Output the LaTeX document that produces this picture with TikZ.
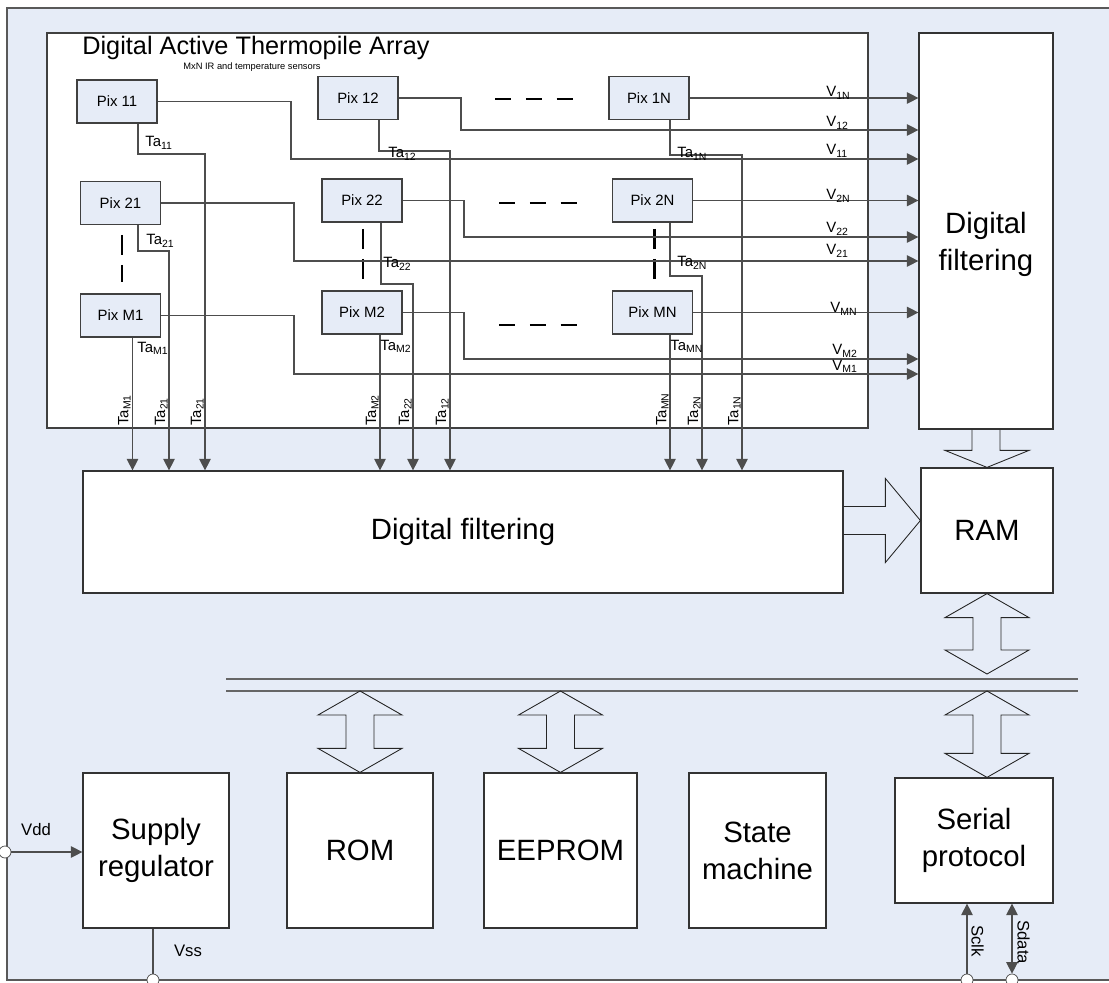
\documentclass[tikz,border=0pt]{standalone}
\usepackage{fontspec}
\setmainfont{Liberation Sans}
\usepackage{tikz}
\usetikzlibrary{arrows.meta, positioning, calc}

\definecolor{panelblue}{HTML}{E6ECF7}
\definecolor{wiregray}{HTML}{4D4D4D}

\tikzstyle{pix} = [rectangle, minimum width=1.6cm, minimum height=0.86cm, inner sep=0pt, text centered, draw=black!75, line width=0.6pt, fill=panelblue, font=\fontsize{8.5}{10}\selectfont]
\tikzstyle{block} = [rectangle, inner sep=0pt, align=center, draw=black!80, line width=0.7pt, fill=white, font=\fontsize{16.7}{21}\selectfont]
\tikzstyle{wire} = [draw=wiregray, line width=0.6pt]
\tikzstyle{arrow} = [wire, -{Triangle[length=6.5pt,width=6.5pt]}]
\tikzstyle{sig} = [inner sep=0pt, font=\fontsize{8.5}{9}\selectfont]
\tikzstyle{pinlabel} = [inner sep=0pt, font=\fontsize{9.5}{11}\selectfont]
\tikzstyle{pin} = [circle, draw=black!70, fill=white, minimum size=0.24cm, inner sep=0pt]
\tikzstyle{blockarr} = [draw=black!85, line width=0.5pt, line join=miter]
\tikzstyle{hdots} = [line width=1.7pt, dash pattern=on 9.35pt off 8.2pt]
\tikzstyle{vdots} = [line width=1.7pt, dash pattern=on 11.3pt off 5.7pt]
\tikzstyle{busline} = [draw=black!60, line width=0.9pt]

% double headed block arrow, #1 upper tip, #2 lower tip
\newcommand{\busarrow}[2]{%
  \draw[blockarr] (#1) -- ++(42,24) -- ++(-28,0) |- ($(#2)+(14,-24)$) -- ++(28,0)
    -- (#2) -- ++(-42,-24) -- ++(28,0) |- ($(#1)+(-14,24)$) -- ++(-28,0) -- cycle;}

\begin{document}
\begin{tikzpicture}[x=0.02cm, y=-0.02cm]
\useasboundingbox (0,0) rectangle (1109,983);
\clip (0,0) rectangle (1109,983);

% chip outline
\fill[panelblue] (7,8) rectangle (1130,980);
\draw[black!65, line width=0.8pt] (1130,8) -- (7,8) -- (7,980) -- (1130,980);

% sensor array
\node[draw=black!75, line width=0.7pt, fill=white, minimum width=16.42cm, minimum height=7.9cm, inner sep=0pt] (array) at (457.5,230.5) {};
\node[anchor=base west, inner sep=0pt, font=\fontsize{14.4}{17}\selectfont] (title) at (82,55) {Digital Active Thermopile Array};
\node[inner sep=0pt, font=\fontsize{5.3}{6}\selectfont] (subtitle) at (252,67) {MxN IR and temperature sensors};

\node[pix] (p11) at (117,101.5) {Pix 11};
\node[pix] (p12) at (358,98) {Pix 12};
\node[pix] (p1N) at (649,98) {Pix 1N};
\node[pix] (p21) at (120.5,203) {Pix 21};
\node[pix] (p22) at (362,200.5) {Pix 22};
\node[pix] (p2N) at (652.5,200.5) {Pix 2N};
\node[pix] (pM1) at (120.5,315.5) {Pix M1};
\node[pix] (pM2) at (362,312.5) {Pix M2};
\node[pix] (pMN) at (652.5,312.5) {Pix MN};

\draw[hdots] (495,99) -- (574,99);
\draw[hdots] (499,203) -- (578,203);
\draw[hdots] (499,325) -- (578,325);
\draw[vdots] (122,235) -- (122,282);
\draw[vdots] (363,229) -- (363,279);
\draw[vdots] (654,229) -- (654,279);

% blocks
\node[block, minimum width=2.68cm, minimum height=7.92cm] (dfR) at (986,231) {\raisebox{-0.43cm}[0pt][0pt]{\begin{tabular}{@{}c@{}}Digital\\filtering\end{tabular}}};
\node[block, minimum width=15.2cm, minimum height=2.44cm] (dfM) at (463,532) {Digital filtering};
\node[block, minimum width=2.64cm, minimum height=2.5cm] (ram) at (987,530.5) {RAM};
\node[block, minimum width=2.92cm, minimum height=3.1cm] (reg) at (156,850.5) {Supply\\regulator};
\node[block, minimum width=2.92cm, minimum height=3.1cm] (rom) at (360,850.5) {ROM};
\node[block, minimum width=3.06cm, minimum height=3.1cm] (eeprom) at (560.5,850.5) {EEPROM};
\node[block, minimum width=2.74cm, minimum height=3.1cm] (fsm) at (757.5,850.5) {State\\machine};
\node[block, minimum width=3.16cm, minimum height=2.5cm] (ser) at (974,840.5) {Serial\\protocol};

% IR outputs
\draw[arrow] (p1N.east) -- (dfR.west |- p1N.east);
\draw[arrow] (p12.east) -| (461,130) -- (dfR.west |- 461,130);
\draw[arrow] (p11.east) -| (291,159) -- (dfR.west |- 291,159);
\draw[arrow] (p2N.east) -- (dfR.west |- p2N.east);
\draw[arrow] (p22.east) -| (464,237) -- (dfR.west |- 464,237);
\draw[arrow] (p21.east) -| (294,261) -- (dfR.west |- 294,261);
\draw[arrow] (pMN.east) -- (dfR.west |- pMN.east);
\draw[arrow] (pM2.east) -| (464,359) -- (dfR.west |- 464,359);
\draw[arrow] (pM1.east) -| (294,374) -- (dfR.west |- 294,374);

\node[sig, anchor=base west] (v1N) at (826,97) {V\textsubscript{1N}};
\node[sig, anchor=base west] (v12) at (826,127) {V\textsubscript{12}};
\node[sig, anchor=base west] (v11) at (826,155) {V\textsubscript{11}};
\node[sig, anchor=base west] (v2N) at (826,200) {V\textsubscript{2N}};
\node[sig, anchor=base west] (v22) at (826,233) {V\textsubscript{22}};
\node[sig, anchor=base west] (v21) at (826,255) {V\textsubscript{21}};
\node[sig, anchor=base west] (vMN) at (830,313) {V\textsubscript{MN}};
\node[sig, anchor=base west] (vM2) at (832,355) {V\textsubscript{M2}};
\node[sig, anchor=base west] (vM1) at (832,370) {V\textsubscript{M1}};

% temperature outputs
\coordinate (t11) at ($(p11.south)+(21,0)$);
\coordinate (t12) at ($(p12.south)+(21,0)$);
\coordinate (t1N) at ($(p1N.south)+(21,0)$);
\coordinate (t21) at ($(p21.south)+(17.5,0)$);
\coordinate (t22) at ($(p22.south)+(19,0)$);
\coordinate (t2N) at ($(p2N.south)+(17.5,0)$);
\coordinate (tM1) at ($(pM1.south)+(12,0)$);
\coordinate (tM2) at ($(pM2.south)+(18,0)$);
\coordinate (tMN) at ($(pMN.south)+(17.5,0)$);

\draw[arrow] (t11) |- (205,154) -- (205,154 |- dfM.north);
\draw[arrow] (t12) |- (450,151) -- (450,151 |- dfM.north);
\draw[arrow] (t1N) |- (742,155) -- (742,155 |- dfM.north);
\draw[arrow] (t21) |- (169,251) -- (169,251 |- dfM.north);
\draw[arrow] (t22) |- (413,284) -- (413,284 |- dfM.north);
\draw[arrow] (t2N) |- (702,276) -- (702,276 |- dfM.north);
\draw[arrow] (tM1) -- (tM1 |- dfM.north);
\draw[arrow] (tM2) -- (tM2 |- dfM.north);
\draw[arrow] (tMN) -- (tMN |- dfM.north);

\node[sig, anchor=base west] (ta11) at (145,147) {Ta\textsubscript{11}};
\node[sig, anchor=base west] (ta12) at (388,158) {Ta\textsubscript{12}};
\node[sig, anchor=base west] (ta1N) at (677,158) {Ta\textsubscript{1N}};
\node[sig, anchor=base west] (ta21) at (146,245) {Ta\textsubscript{21}};
\node[sig, anchor=base west] (ta22) at (383,268) {Ta\textsubscript{22}};
\node[sig, anchor=base west] (ta2N) at (677,267) {Ta\textsubscript{2N}};
\node[sig, anchor=base west] (taM1) at (137,352) {Ta\textsubscript{M1}};
\node[sig, anchor=base west] (taM2) at (380,350) {Ta\textsubscript{M2}};
\node[sig, anchor=base west] (taMN) at (670,350) {Ta\textsubscript{MN}};

\node[sig, rotate=90, anchor=south west] (rM1) at (131,426) {Ta\textsubscript{M1}};
\node[sig, rotate=90, anchor=south west] (r21a) at (168,426) {Ta\textsubscript{21}};
\node[sig, rotate=90, anchor=south west] (r21b) at (204,426) {Ta\textsubscript{21}};
\node[sig, rotate=90, anchor=south west] (rM2) at (379,426) {Ta\textsubscript{M2}};
\node[sig, rotate=90, anchor=south west] (r22) at (412,426) {Ta\textsubscript{22}};
\node[sig, rotate=90, anchor=south west] (r12) at (449,426) {Ta\textsubscript{12}};
\node[sig, rotate=90, anchor=south west] (rMN) at (669,426) {Ta\textsubscript{MN}};
\node[sig, rotate=90, anchor=south west] (r2N) at (701,426) {Ta\textsubscript{2N}};
\node[sig, rotate=90, anchor=south west] (r1N) at (741,426) {Ta\textsubscript{1N}};

% block arrows and bus
\coordinate (ha) at ($(ram.west)+(0,-10)$);
\draw[blockarr] ($(dfM.east |- ha)+(0,-14)$) -| ($(ha)+(-35,-42)$) -- (ha) -- ($(ha)+(-35,42)$) |- ($(dfM.east |- ha)+(0,14)$);
\draw[blockarr] ($(dfR.south)+(-14,0)$) |- ($(ram.north)+(-42,-17)$) -- (ram.north) -- ($(ram.north)+(42,-17)$) -| ($(dfR.south)+(14,0)$);

\coordinate (busA) at (226,679);
\coordinate (busB) at (226,691);
\draw[busline] (busA) -- ++(852,0);
\draw[busline] (busB) -- ++(852,0);

\coordinate (ramlow) at ($(ram.south |- busA)+(0,-5)$);
\busarrow{ram.south}{ramlow}
\coordinate (romup) at (rom.north |- busB);
\busarrow{romup}{rom.north}
\coordinate (eepup) at (eeprom.north |- busB);
\busarrow{eepup}{eeprom.north}
\coordinate (serup) at (ram.south |- busB);
\coordinate (serlow) at (ram.south |- ser.north);
\busarrow{serup}{serlow}

% pins
\node[pin] (vdd) at (5,852) {};
\draw[arrow] (vdd) -- (vdd -| reg.west);
\node[pinlabel] (vddlab) at (36,830) {Vdd};
\node[pin] (vss) at (153,980) {};
\draw[wire] (vss) -- (vss |- reg.south);
\node[pinlabel] (vsslab) at (188,951) {Vss};
\node[pin] (sclk) at (967,980) {};
\draw[arrow] (sclk) -- (sclk |- ser.south);
\node[pinlabel, rotate=-90, anchor=south west] (sclklab) at (971,925) {Sclk};
\node[pin] (sdata) at (1012,980) {};
\draw[wire, {Triangle[length=6.5pt,width=6.5pt]}-{Triangle[length=6.5pt,width=6.5pt]}] (sdata) -- (sdata |- ser.south);
\node[pinlabel, rotate=-90, anchor=south west] (sdatalab) at (1017,920) {Sdata};

\end{tikzpicture}
\end{document}
